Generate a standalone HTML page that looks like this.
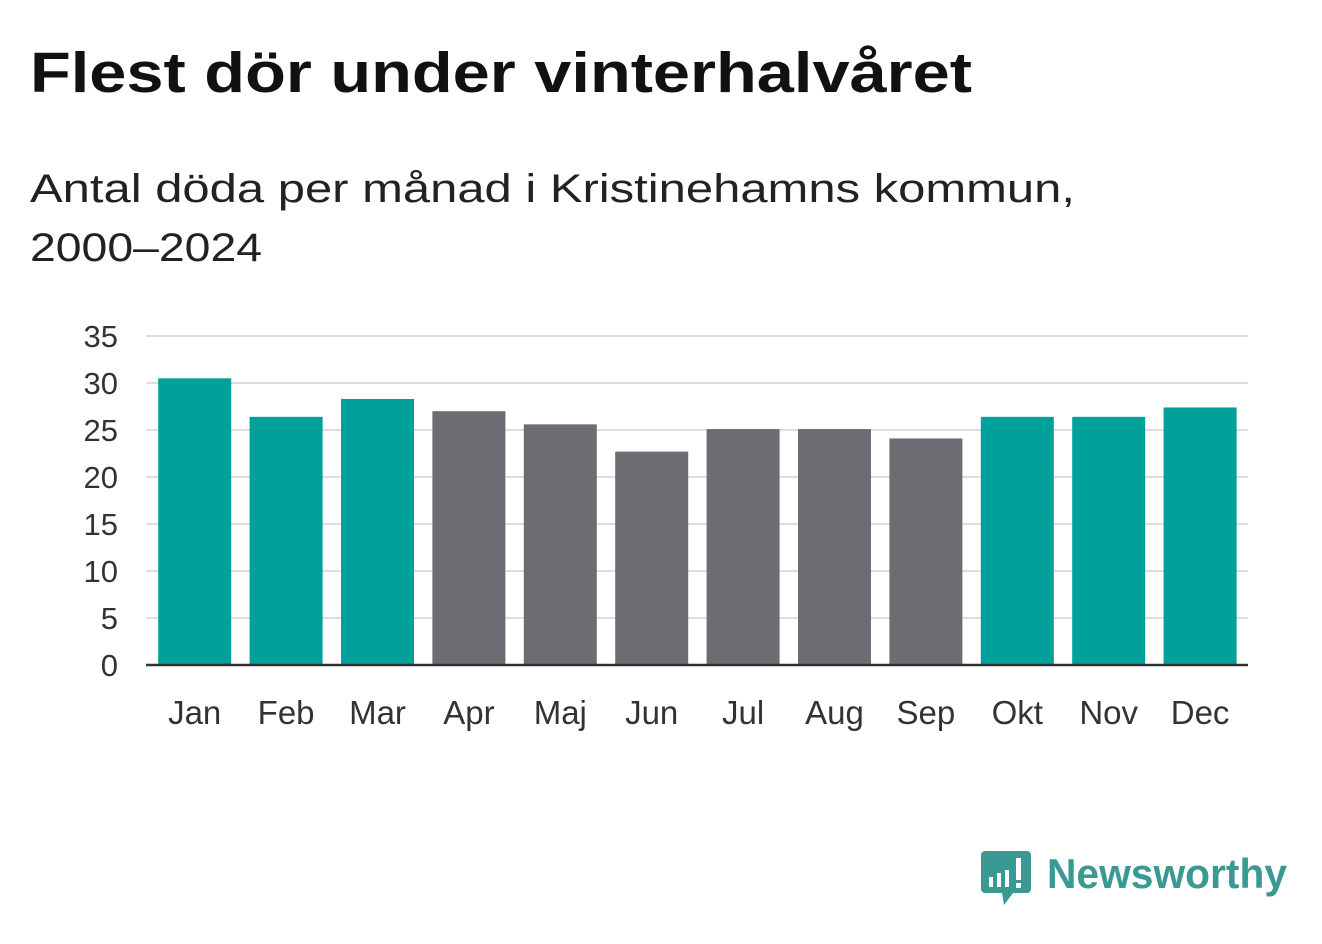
<!DOCTYPE html>
<html><head><meta charset="utf-8"><style>
body{margin:0;background:#fff;width:1322px;height:939px;overflow:hidden;font-family:"Liberation Sans","DejaVu Sans",sans-serif;}
svg text{font-family:"Liberation Sans","DejaVu Sans",sans-serif;}
</style></head><body>
<svg width="1322" height="939">
<text x="30" y="92" font-size="57" font-weight="bold" fill="#111" textLength="942" lengthAdjust="spacingAndGlyphs">Flest dör under vinterhalvåret</text>
<text x="30" y="202" font-size="40" fill="#222" textLength="1045" lengthAdjust="spacingAndGlyphs">Antal döda per månad i Kristinehamns kommun,</text>
<text x="30" y="261" font-size="40" fill="#222" textLength="232" lengthAdjust="spacingAndGlyphs">2000–2024</text>
<g id="grid"></g><g id="bars"></g><g id="xlabels"></g>
<g>
<path d="M985 851 h42 a4 4 0 0 1 4 4 v34 a4 4 0 0 1 -4 4 h-14 l-9 12 l-2 -12 h-17 a4 4 0 0 1 -4 -4 v-34 a4 4 0 0 1 4 -4z" fill="#3a9a93"/>
<rect x="989" y="877" width="4" height="10" fill="#fff"/><rect x="997" y="873" width="4" height="14" fill="#fff"/><rect x="1005" y="870" width="4" height="17" fill="#fff"/><rect x="1016" y="858" width="5" height="22" fill="#fff"/><rect x="1016" y="883" width="5" height="5" fill="#fff"/>
<text x="1047" y="888" font-size="42" font-weight="bold" fill="#3a9a93" textLength="240" lengthAdjust="spacingAndGlyphs">Newsworthy</text>
</g>
</svg>
<script>
const months=["Jan","Feb","Mar","Apr","Maj","Jun","Jul","Aug","Sep","Okt","Nov","Dec"];
const values=[30.5,26.4,28.3,27.0,25.6,22.7,25.1,25.1,24.1,26.4,26.4,27.4];
const winter=[true,true,true,false,false,false,false,false,false,true,true,true];
const ticks=[0,5,10,15,20,25,30,35];
const NS="http://www.w3.org/2000/svg";
const x0=146,x1=1248,y0=665,yTop=336,maxV=35;
const y=v=>y0-(v/maxV)*(y0-yTop);
const bandStart=149,band=91.4;
const grid=document.getElementById('grid'),bars=document.getElementById('bars'),xl=document.getElementById('xlabels');
function mk(tag,attrs,parent){const e=document.createElementNS(NS,tag);for(const k in attrs)e.setAttribute(k,attrs[k]);parent.appendChild(e);return e;}
ticks.forEach(t=>{
  if(t>0){const l=mk('line',{x1:x0,x2:x1,y1:y(t),y2:y(t),stroke:'#ddd','stroke-width':2},grid);
  
  }
  const tx=mk('text',{x:118,y:y(t)+11,'font-size':31,'text-anchor':'end',fill:'#333'},grid);
  tx.textContent=t;
  
  
});
months.forEach((m,i)=>{
  const cx=bandStart+band*(i+0.5);
  const r=mk('rect',{x:cx-36.5,y:y(values[i]),width:73,height:y0-y(values[i]),fill:winter[i]?'#00a19a':'#6d6c72'},bars);
  
  
  const t=mk('text',{x:cx,y:724,'font-size':33,'text-anchor':'middle',fill:'#333'},xl);
  t.textContent=m;
  
  
});
const ax=mk('line',{x1:x0,x2:x1,y1:y0,y2:y0,stroke:'#333','stroke-width':2.5},xl);


</script>
</body></html>
